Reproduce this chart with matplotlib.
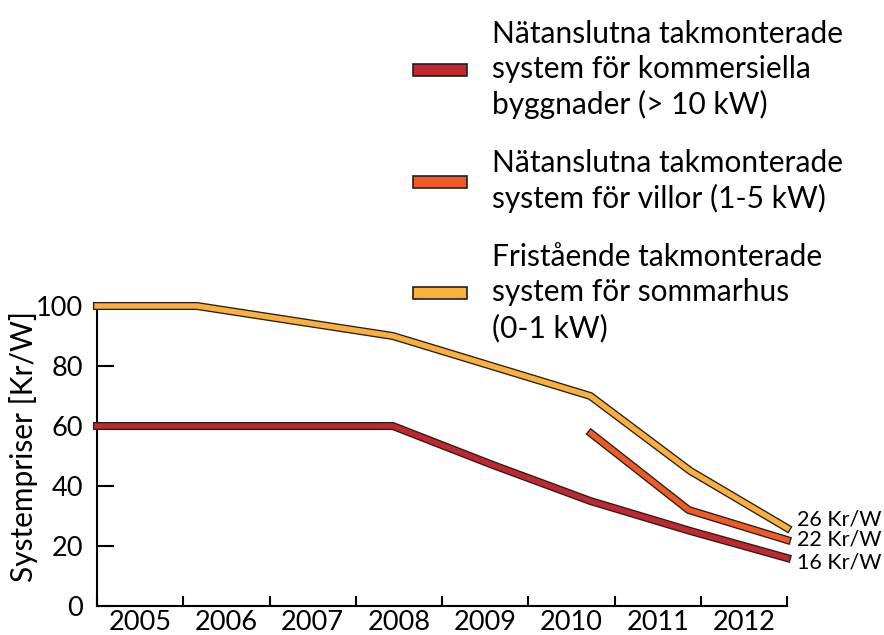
import matplotlib
matplotlib.use("Agg")
import matplotlib.pyplot as plt
from matplotlib.patches import Patch

plt.rcParams['font.family'] = ['Lato', 'DejaVu Sans']

# x in years, 2005.0 = start of the 2005 interval
years = [2005, 2006, 2007, 2008, 2009, 2010, 2011, 2012]

x_komm = [2005.0, 2008.43, 2009.59, 2010.72, 2011.88, 2013.0]
y_komm = [60, 60, 47, 35, 25, 16]

x_villa = [2010.73, 2011.86, 2013.0]
y_villa = [57.5, 32, 22]

x_sommar = [2005.0, 2006.16, 2008.43, 2010.72, 2011.88, 2013.0]
y_sommar = [100, 100, 90, 70, 45, 26]

labels = ["Nätanslutna takmonterade\nsystem för kommersiella\nbyggnader (> 10 kW)",
          "Nätanslutna takmonterade\nsystem för villor (1-5 kW)",
          "Fristående takmonterade\nsystem för sommarhus\n(0-1 kW)"]
colors = ["#C1272D", "#F15A24", "#FBB03B"]
end_values = [16, 22, 26]
end_offsets = [-1.5, 0, 2.7]

fig = plt.figure(figsize=(8.84, 6.35), dpi=100)
ax = fig.add_axes([97/884, 29/635, 690/884, 300/635])

series = [(x_komm, y_komm), (x_villa, y_villa), (x_sommar, y_sommar)]
for (xs, ys), c in zip(series, colors):
    ax.plot(xs, ys, color="#231F20", lw=5.8, solid_capstyle="projecting",
            solid_joinstyle="miter", clip_on=False, zorder=3)
    ax.plot(xs, ys, color=c, lw=3.9, solid_capstyle="projecting",
            solid_joinstyle="miter", clip_on=False, zorder=4)

for v, off in zip(end_values, end_offsets):
    ax.text(2013.12, v + off, f"{v} Kr/W", fontsize=15.5, va="center", ha="left")

ax.set_xlim(2005, 2013)
ax.set_ylim(0, 100)
ax.set_xticks(range(2005, 2014))
ax.set_xticklabels([])
ax.set_xticks([y + 0.5 for y in years], minor=True)
ax.set_xticklabels([str(y) for y in years], minor=True, fontsize=19.5)
ax.tick_params(axis="x", which="major", direction="in", length=7, width=1.5)
ax.tick_params(axis="x", which="minor", length=0, pad=3)
ax.set_yticks(range(0, 101, 20))
ax.tick_params(axis="y", direction="in", length=12, width=1.5, labelsize=19.5, pad=10)
ax.set_ylabel("Systempriser [Kr/W]", fontsize=21.5)
ax.yaxis.set_label_coords(-0.085, 0.533)

for s in ["top", "right"]:
    ax.spines[s].set_visible(False)
for s in ["left", "bottom"]:
    ax.spines[s].set_linewidth(1.5)
ax.spines["left"].set_bounds(0, 101)

handles = [Patch(facecolor=c, edgecolor="#231F20", lw=1.2) for c in colors]
leg = fig.legend(handles, labels, loc="upper left", bbox_to_anchor=(413/884, 1 - 20/635),
                 frameon=False, fontsize=21.5, handlelength=1.8, handleheight=0.23,
                 handletextpad=0.84, labelspacing=1.0, borderpad=0, borderaxespad=0)
for t in leg.get_texts():
    t.set_linespacing(1.3)

fig.savefig("out.png", dpi=100)
